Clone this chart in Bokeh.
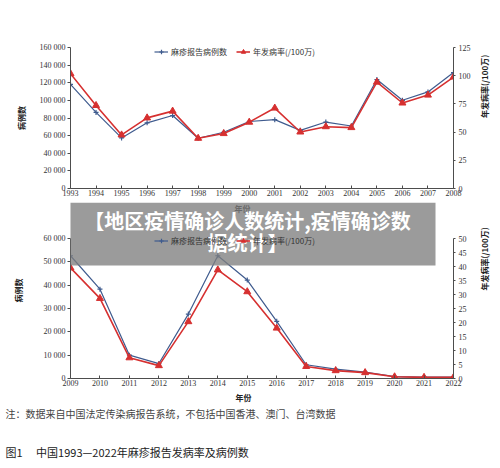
import math
from bokeh.plotting import figure
from bokeh.models import (Range1d, LinearAxis, FixedTicker, Legend, LegendItem,
                          BoxAnnotation, Label, Title)
from bokeh.layouts import column
from bokeh.embed import file_html
from bokeh.resources import INLINE

# ---------------- data ----------------
years_a = [1993, 1994, 1995, 1996, 1997, 1998, 1999, 2000,
           2001, 2002, 2003, 2004, 2005, 2006, 2007, 2008]
cases_a = [118200, 86300, 57400, 74500, 82800, 57000, 63800, 76000,
           78100, 66000, 75400, 70900, 123600, 100100, 109600, 131600]
rate_a = [101.8, 73.6, 47.5, 62.6, 68.6, 44.5, 48.7, 58.8,
          71.3, 50.1, 54.8, 54.0, 94.3, 75.8, 82.8, 98.8]

years_b = [2009, 2010, 2011, 2012, 2013, 2014, 2015,
           2016, 2017, 2018, 2019, 2020, 2021, 2022]
cases_b = [52600, 38300, 10000, 6400, 27600, 52600, 42200,
           24500, 5900, 4000, 2700, 800, 550, 550]
rate_b = [39.5, 28.6, 7.4, 4.6, 20.3, 38.8, 31.0,
          18.0, 4.3, 2.8, 2.1, 0.6, 0.4, 0.4]

case_ticks_a = [0, 20000, 40000, 60000, 80000, 100000, 120000, 140000, 160000]
case_labels_a = ["0", "20 000", "40 000", "60 000", "80 000", "100 000",
                 "120 000", "140 000", "160 000"]
rate_ticks_a = [0, 25, 50, 75, 100, 125]

case_ticks_b = [0, 10000, 20000, 30000, 40000, 50000, 60000]
case_labels_b = ["0", "10 000", "20 000", "30 000", "40 000", "50 000", "60 000"]
rate_ticks_b = [0, 5, 10, 15, 20, 25, 30, 35, 40, 45, 50]

series_names = ["麻疹报告病例数", "年发病率(/100万)"]
y_title_left = "病例数"
y_title_right = "年发病率(/100万)"
x_title = "年份"
banner_lines = ["【地区疫情确诊人数统计,疫情确诊数", "据统计】"]
note_text = "注：数据来自中国法定传染病报告系统，不包括中国香港、澳门、台湾数据"
caption_text = "图1\u3000\u00a0中国1993—2022年麻疹报告发病率及病例数"

# ---------------- styles ----------------
BLUE = "#3f5b8e"
RED = "#d63030"
AX = "#4d4d4d"
TXT = "#333333"
NUM_FONT = "Liberation Serif"
CJK = "Noto Sans CJK SC"
FRAME_LEFT = 70
FRAME_RIGHT_BORDER = 47


def make_chart(years, cases, rates, c_ticks, c_labels, r_ticks, c_max, r_max,
               c_end, r_end, height, b_top, b_bottom, l_stand, r_stand,
               legend_xy):
    p = figure(width=500, height=height, output_backend="svg",
               toolbar_location=None,
               x_range=Range1d(years[0], years[-1]),
               y_range=Range1d(0, c_end),
               min_border_left=FRAME_LEFT, min_border_right=FRAME_RIGHT_BORDER,
               min_border_top=b_top, min_border_bottom=b_bottom)
    p.extra_y_ranges = {"rate": Range1d(0, r_end)}
    p.grid.visible = False
    p.outline_line_color = None
    p.background_fill_color = "white"
    p.border_fill_color = "white"

    xa = p.xaxis[0]
    xa.ticker = FixedTicker(ticks=years)
    xa.major_tick_in = 3
    xa.major_tick_out = 0
    xa.minor_tick_in = 0
    xa.minor_tick_out = 0
    xa.major_label_standoff = 1
    xa.major_label_text_font = NUM_FONT
    xa.major_label_text_font_size = "8px"
    xa.major_label_text_color = TXT
    xa.axis_line_color = AX
    xa.major_tick_line_color = AX

    ya = p.yaxis[0]
    ya.ticker = FixedTicker(ticks=c_ticks)
    ya.major_label_overrides = {t: s for t, s in zip(c_ticks, c_labels)}
    ya.bounds = (0, c_max)
    ya.major_tick_out = 3
    ya.major_tick_in = 0
    ya.minor_tick_in = 0
    ya.minor_tick_out = 0
    ya.major_label_standoff = 2
    ya.major_label_text_font = NUM_FONT
    ya.major_label_text_font_size = "8px"
    ya.major_label_text_color = TXT
    ya.axis_line_color = AX
    ya.major_tick_line_color = AX
    ya.axis_label = y_title_left
    ya.axis_label_text_font = CJK
    ya.axis_label_text_font_size = "8px"
    ya.axis_label_text_font_style = "bold"
    ya.axis_label_text_color = "#222222"
    ya.axis_label_standoff = l_stand

    ra = LinearAxis(y_range_name="rate", ticker=FixedTicker(ticks=r_ticks),
                    bounds=(0, r_max))
    ra.major_tick_out = 2
    ra.major_tick_in = 0
    ra.minor_tick_in = 0
    ra.minor_tick_out = 0
    ra.major_label_standoff = 3
    ra.major_label_text_font = NUM_FONT
    ra.major_label_text_font_size = "8px"
    ra.major_label_text_color = TXT
    ra.axis_line_color = AX
    ra.major_tick_line_color = AX
    ra.axis_label = y_title_right
    ra.axis_label_text_font = CJK
    ra.axis_label_text_font_size = "8px"
    ra.axis_label_text_font_style = "bold"
    ra.axis_label_text_color = "#222222"
    ra.axis_label_standoff = r_stand
    ra.axis_label_orientation = math.pi / 2
    p.add_layout(ra, "right")

    bl = p.line(years, cases, line_color=BLUE, line_width=1.2)
    bs = p.scatter(years, cases, marker="cross", size=5, line_color=BLUE,
                   line_width=1.2)
    rl = p.line(years, rates, y_range_name="rate", line_color=RED, line_width=1.6)
    rs = p.scatter(years, rates, y_range_name="rate", marker="triangle", size=7,
                   fill_color=RED, line_color=RED)

    legend = Legend(items=[LegendItem(label=series_names[0], renderers=[bl, bs]),
                           LegendItem(label=series_names[1], renderers=[rl, rs])],
                    location=legend_xy, orientation="horizontal",
                    padding=0, margin=0, spacing=9, glyph_width=14,
                    glyph_height=11, label_height=11, label_standoff=3,
                    label_text_font=CJK, label_text_font_size="8px",
                    label_text_color=TXT, border_line_color=None,
                    background_fill_alpha=0)
    p.add_layout(legend)
    return p


# top chart: frame 141 px tall, ranges end exactly at the top tick
p1 = make_chart(years_a, cases_a, rate_a, case_ticks_a, case_labels_a,
                rate_ticks_a, 160000, 125, 160000, 125,
                height=202, b_top=47, b_bottom=14,
                l_stand=10, r_stand=11, legend_xy=(84, 131))

# bottom chart: frame runs to canvas top; axes bounded at the top tick;
# the lower border holds the notes
F2_H = 176
F2_TICK_H = 140
c_end_b = case_ticks_b[-1] * F2_H / F2_TICK_H
r_end_b = rate_ticks_b[-1] * F2_H / F2_TICK_H
p2 = make_chart(years_b, cases_b, rate_b, case_ticks_b, case_labels_b,
                rate_ticks_b, case_ticks_b[-1], rate_ticks_b[-1], c_end_b, r_end_b,
                height=266, b_top=0, b_bottom=90,
                l_stand=17, r_stand=15, legend_xy=(84, 132))

# pixel helpers for overlay placement on chart 2 (page px -> data)
F2_W = 500 - FRAME_LEFT - FRAME_RIGHT_BORDER
F2_TOP = 202.0


def fx2(px):
    return years_b[0] + (px - FRAME_LEFT) / F2_W * (years_b[-1] - years_b[0])


def fy2(py):
    return (F2_TOP + F2_H - py) / F2_H * c_end_b


def add_label(p, px, py, text, size, color, bold=False, align="left"):
    p.add_layout(Label(x=fx2(px), y=fy2(py), text=text, text_align=align,
                       text_baseline="middle", text_color=color, text_font=CJK,
                       text_font_size=size,
                       text_font_style="bold" if bold else "normal"))


# x title of the top chart, under the banner
add_label(p2, 242, 208, x_title, "8px", "#222222", bold=True, align="center")

banner = BoxAnnotation(left=fx2(64), right=fx2(435), top=fy2(202), bottom=fy2(265),
                       fill_color="#7f7f7f", fill_alpha=0.78, line_color=None)
p2.add_layout(banner)
for line_text, py in zip(banner_lines, [219.5, 242]):
    add_label(p2, 247, py, line_text, "20px", "white", bold=True, align="center")

# x title of the bottom chart and the notes, stacked below the x axis
# (the "\u00a0" entry is an empty spacer line)
for text, size, bold, color, left_px, stand in [
        (x_title, "8px", True, "#222222", 235, 2),
        (note_text, "10px", False, "#444444", 5, 0),
        ("\u00a0", "10px", False, "#ffffff", 5, 4),
        (caption_text, "11px", False, "#222222", 5, 0)]:
    p2.add_layout(Title(text=text, align="left", offset=left_px - FRAME_LEFT,
                        standoff=stand, text_font=CJK, text_font_size=size,
                        text_font_style="bold" if bold else "normal",
                        text_color=color), "below")

layout = column(p1, p2, spacing=0)
open("out.html", "w").write(file_html(layout, INLINE))
